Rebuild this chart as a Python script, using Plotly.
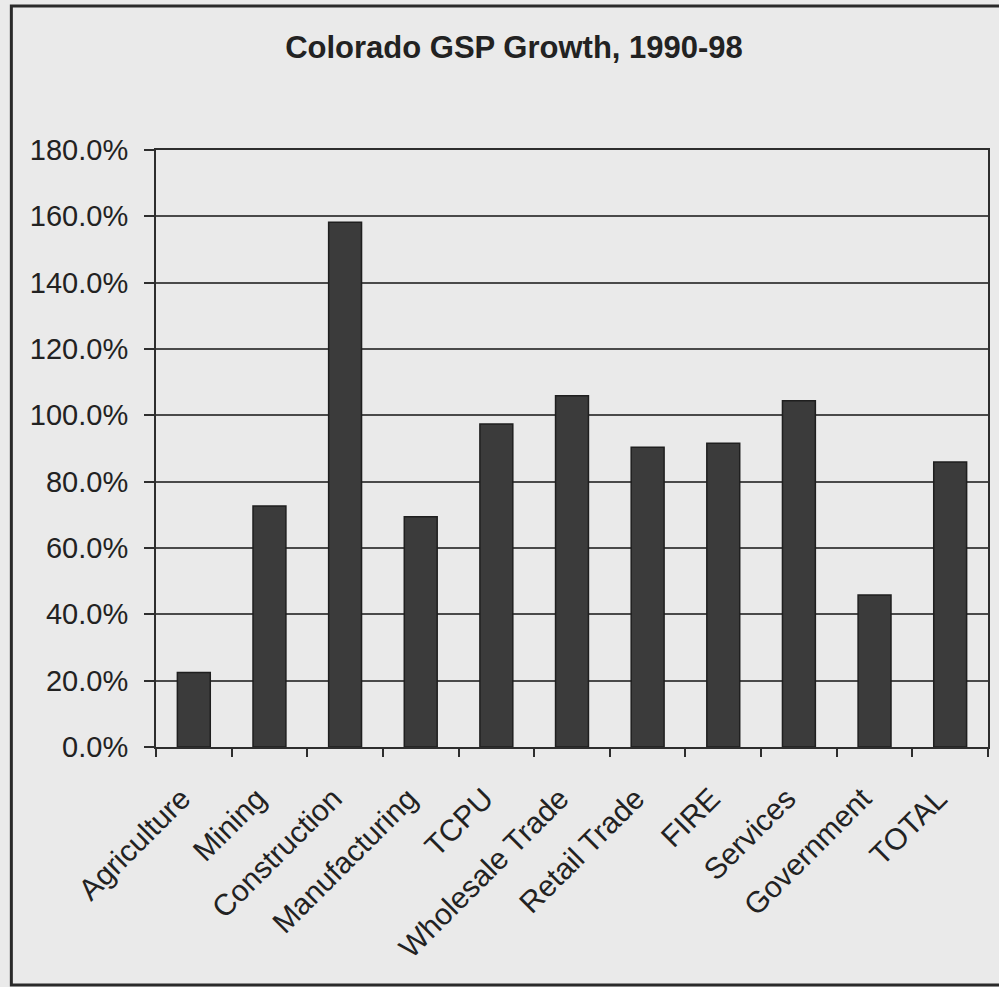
import plotly.graph_objects as go

categories = ["Agriculture", "Mining", "Construction", "Manufacturing", "TCPU",
              "Wholesale Trade", "Retail Trade", "FIRE", "Services",
              "Government", "TOTAL"]
growth_pct = [22.5, 72.7, 158.2, 69.4, 97.4, 105.9, 90.4, 91.6, 104.4, 45.8, 85.9]
y_ticks = [0, 20, 40, 60, 80, 100, 120, 140, 160, 180]
y_tick_labels = ["%.1f%%" % v for v in y_ticks]

W, H = 999, 987
L, R, T, B = 156, 9, 150, 240
pw, ph = W - L - R, H - T - B

def px_x(p):
    return (p - L) / pw

def px_y(p):
    return (H - B - p) / ph

bg = "#eaeaea"
ink = "#2e2e2e"

fig = go.Figure(go.Bar(
    x=categories, y=growth_pct,
    marker=dict(color="#3b3b3b", line=dict(color="#1f1f1f", width=1.5)),
))

fig.update_layout(
    width=W, height=H,
    margin=dict(l=L, r=R, t=T, b=B),
    paper_bgcolor=bg, plot_bgcolor=bg,
    bargap=0.565,
    showlegend=False,
    font=dict(family="Liberation Sans, Arial, sans-serif", color="#222222"),
    title=dict(text="<b>Colorado GSP Growth, 1990-98</b>", x=514 / W, xref="container",
               xanchor="center", y=1 - 47 / H, yanchor="middle",
               font=dict(size=31, color="#222222")),
    shapes=[dict(type="rect", xref="paper", yref="paper",
                 x0=px_x(11), x1=px_x(1010), y0=px_y(985), y1=px_y(6),
                 line=dict(color="#2a2a2a", width=3), layer="above")],
)

fig.update_xaxes(
    tickangle=-45, tickfont=dict(size=30, color="#222222"),
    ticklabelstandoff=20, ticklabelshift=-12,
    showline=True, linecolor=ink, linewidth=2, mirror=True,
    ticks="outside", tickson="boundaries", ticklen=8, tickcolor=ink, tickwidth=1.5,
    showgrid=False,
)
fig.update_yaxes(
    range=[0, 180], tickvals=y_ticks, ticktext=y_tick_labels,
    tickfont=dict(size=29, color="#222222"),
    ticklabelstandoff=10,
    showline=True, linecolor=ink, linewidth=2, mirror=True,
    ticks="outside", ticklen=10, tickcolor=ink, tickwidth=1.5,
    showgrid=True, gridcolor="#4a4a4a", gridwidth=1.6,
    zeroline=False,
)

fig.write_html("out.html", config={"displayModeBar": False},
               post_script="document.body.style.margin='0';")
